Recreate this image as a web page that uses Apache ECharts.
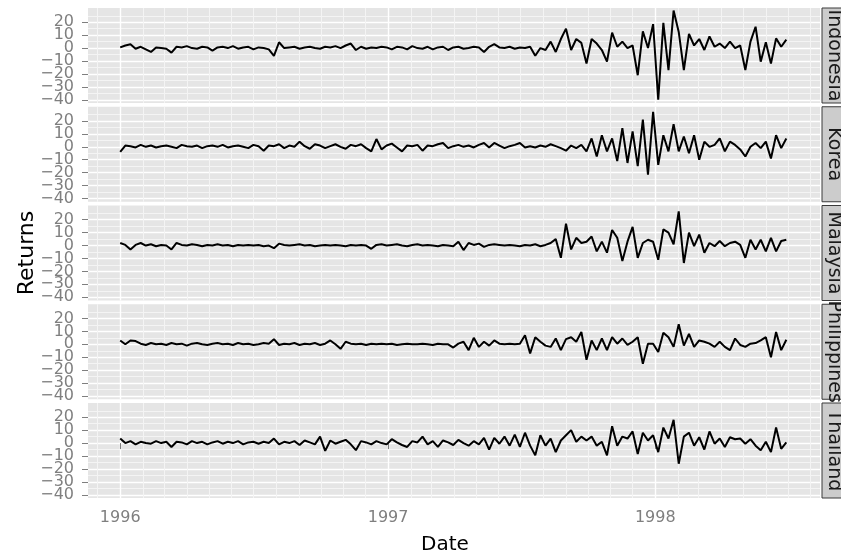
<!DOCTYPE html>
<html>
<head>
<meta charset="utf-8">
<script src="https://cdn.jsdelivr.net/npm/echarts@6/dist/echarts.min.js"></script>
<style>
	html, body { margin: 0; padding: 0; background: #ffffff; }
	#returnsChart { width: 841px; height: 557px; }
</style>
</head>
<body>
<div id="returnsChart"></div>
<script>
// weekly returns (%), one value per week starting at startDate
var countries = ['Indonesia', 'Korea', 'Malaysia', 'Philippines', 'Thailand']
var startDate = '1996-01-01'
var yearLabels = [1996, 1997, 1998]
var returnTicks = [-40, -30, -20, -10, 0, 10, 20]
var returnMinorTicks = [-35, -25, -15, -5, 5, 15, 25]

var indonesia = [
	0.5, 2, 3, -0.5, 1, -1, -3, 0.5, 0, -0.5,
	-3.5, 1, 0.5, 1.5, 0, -0.5, 1, 0.5, -2, 0.5,
	1, 0, 1.5, -0.5, 0.5, 1, -1, 0.5, 0, -1,
	-6, 4.5, 0, 0.5, 1, -0.5, 0.5, 1, 0, -0.5,
	1, 0.5, 1.5, 0, 2, 3.5, -1.5, 1, -0.5, 0.5,
	0, 1, 0.5, -1, 1, 0.5, -1, 1.5, 0, -0.5,
	1, -1, 0.5, 1, -1.5, 0.5, 1, -0.5, 0, 1,
	0.5, -3, 1, 3, 0.5, 0, 1, -0.5, 0.5, 0,
	1, -6, 0, -1.5, 5, -3, 7, 15, -1.5, 7,
	4, -12, 7, 3.5, -1.5, -10.5, 12, 1, 5, 0,
	2, -21, 13, 0, 18.5, -40, 19.5, -17, 29, 12.5,
	-17, 11, 2, 7, -1.5, 9, 1, 3.5, 0, 5,
	0, 2, -17, 5, 16.5, -10.5, 4.5, -12, 7.5, 1,
	6.5,
]
var korea = [
	-4, 1, 0.5, -0.5, 1.5, 0, 1, -0.5, 0.5, 1,
	0, -1, 1.5, 0.5, 0, 1, -1, 0.5, 1, 0,
	1.5, -0.5, 0.5, 1, 0, -1, 1.5, 0.5, -3, 1,
	0.5, 2, -1, 1, 0, 4, 0.5, -1.5, 2, 1,
	-1, 0.5, 2, 0, -1.5, 1.5, 0.5, 2, -1, -3.5,
	6, -2, 1, 2.5, -0.5, -3.5, 1, 0.5, 1.5, -3,
	1, 0.5, 2, 3, -1, 0.5, 1.5, 0, 1, -0.5,
	1.5, 3, -0.5, 3, 1, -1, 0.5, 1.5, 3, -0.5,
	0.5, -0.5, 1, 0, 2, 0.5, -1, -3, 1, -1,
	1.5, -3.5, 6.5, -7.5, 9, -3.5, 6.5, -11, 14.5, -12.5,
	12, -15, 21, -21.5, 27, -14, 9, -3.5, 17.5, -3.5,
	8, -5, 9, -10, 4, 0, 1.5, 6.5, -3.5, 4,
	1.5, -2, -7.5, 0, 3, -1, 4, -9, 9, -1,
	6.5,
]
var malaysia = [
	2, 0.5, -3, 0.5, 2, 0, 1, -0.5, 0.5, 0,
	-3, 2, 0.5, 0, 1, 0.5, -0.5, 0.5, 0, 1,
	0, 0.5, -0.5, 0.5, 0, 0.5, 0, 0.5, -0.5, 0,
	-2, 1.5, 0.5, 0, 0.5, 1, 0, 0.5, -0.5, 0,
	0.5, 0, 0.5, 0, -0.5, 0.5, 0, 0.5, 0, -2.5,
	0.5, 1, 0, 0.5, 1, 0, -0.5, 0.5, 1, 0,
	0.5, 0, -0.5, 0.5, 0, -0.5, 3, -3.5, 2, 0.5,
	1.5, -1, 0.5, 1, 0.5, 0, 0.5, 0, -0.5, 0.5,
	0, 1, -0.5, 0.5, 2, 5, -9.5, 17, -3, 6,
	2, 3, 7, -4.5, 3, -5.5, 12, 6, -12, 3,
	14.5, -9.5, 2, 4.5, 3, -11, 12.5, 10, 1, 26.5,
	-13.5, 10, -0.5, 8.5, -5.5, 2, -0.5, 3.5, -0.5, 2,
	3, 0.5, -9.5, 4.5, -3, 4.5, -4.5, 6, -4.5, 3.5,
	4.5,
]
var philippines = [
	3, 0, 3, 2.5, 0.5, -0.5, 1, 0, 0.5, -0.5,
	1, 0, 0.5, -1, 0.5, 1, 0, -0.5, 0.5, 1,
	0, 0.5, -0.5, 1, 0, 0.5, -0.5, 0, 1, 0.5,
	4, -0.5, 0.5, 0, 1, -0.5, 0.5, 0, 1, -0.5,
	0.5, 3, 0, -3.5, 2, 0.5, 0, 0.5, -0.5, 0.5,
	0, 0.5, 0, 0.5, -0.5, 0, 0.5, 0, 0, 0.5,
	0, -0.5, 0.5, 0, 0, -2.5, 0.5, 2, -4.5, 5,
	-2, 2, -1, 3, 0.5, 0, 0.5, 0, 0.5, 7,
	-7, 5.5, 2, -1, -2, 4.5, -4.5, 4, 5.5, 2,
	9.5, -12, 3, -4.5, 4.5, -4.5, 5.5, 0.5, 4.5, -0.5,
	2, 5.5, -15, 0.5, 0.5, -6, 9, 5.5, -2, 15.5,
	-1, 8, -2, 3, 2, 0.5, -2, 2, -2, -4.5,
	4.5, -0.5, -2, 0.5, 1, 3, 5.5, -10, 9.5, -4.5,
	3.5,
]
var thailand = [
	3.5, 0, 1.5, -1, 1, 0, -0.5, 1.5, 0, 1,
	-3, 1, 0.5, -1, 1.5, 0, 1, -1, 0.5, 1.5,
	-0.5, 1, 0, 1.5, -1, 0.5, 1, -0.5, 1, 0,
	3.5, -1, 1, 0, 1.5, -1.5, 2, 0.5, -1, 5,
	-6, 2, -0.5, 1, 2.5, -1, -5.5, 1.5, 0.5, -1,
	1.5, 0, -1, 3, 0.5, -1.5, -3, 1.5, 0.5, 5,
	-1, 1.5, -3, 2, 0.5, -1.5, 2.5, 0, -2, 1.5,
	-1, 4, -5, 4, -0.5, 5, -2, 6.5, -3, 8,
	-2, -9.5, 6, -2, 3.5, -7, 2, 6, 10, 1,
	5, 2, 5, -2, 1, -9.5, 13, -2, 5, 3.5,
	9, -8.5, 8, 2, 6, -7, 12, 3.5, 18, -16,
	5, 8, -2, 4.5, -5, 9, -0.5, 3.5, -3, 4.5,
	3, 3.5, -0.5, 3, -2, -5.5, 1, -7, 12, -4.5,
	0.5,
]
var returnsByCountry = [indonesia, korea, malaysia, philippines, thailand]

var DAY = 86400000
var xMin = Date.UTC(1995, 10, 18)
var xMax = Date.UTC(1998, 7, 14)
var yMin = -42.5
var yMax = 31

var panelLeft = 88
var panelRight = 21
var panelTop = 8
var panelHeight = 95
var panelStep = 98.75
var textFont = '"DejaVu Sans", "Liberation Sans", sans-serif'

function weekTimes(n) {
	var t0 = Date.parse(startDate + 'T00:00:00Z')
	var out = []
	for (var i = 0; i < n; i++) {
		out.push(t0 + i * 7 * DAY)
	}
	return out
}

function yearTimes() {
	return yearLabels.map(function (y) {
		return Date.UTC(y, 0, 1)
	})
}

// month starts, January left out (it is a major line)
function monthTimes() {
	var out = []
	for (var y = 1995; y <= 1998; y++) {
		for (var m = 1; m < 12; m++) {
			var t = Date.UTC(y, m, 1)
			if (t > xMin && t < xMax) out.push(t)
		}
	}
	return out
}

function minusSign(v) {
	return v < 0 ? '\u2212' + Math.abs(v) : String(v)
}

// tick labels crowd each other, so they are split over two axes
// (every other label) to stop echarts from dropping any
function everyOther(list, start) {
	return list.filter(function (v, k) {
		return k % 2 === start
	})
}

function yLabelStyle(values) {
	return {
		show: true,
		customValues: values,
		showMinLabel: true,
		showMaxLabel: true,
		formatter: minusSign,
		color: '#7F7F7F',
		fontSize: 16,
		fontFamily: textFont,
		margin: 14,
	}
}

function drawReturns() {
	var chartDom = document.getElementById('returnsChart')
	var myChart = echarts.init(chartDom)
	var option

	var times = weekTimes(indonesia.length)
	var years = yearTimes()
	var months = monthTimes()
	var last = countries.length - 1
	var grids = []
	var minorX = [], majorX = [], minorY = [], majorY = []
	var series = []
	var graphics = []

	countries.forEach(function (name, i) {
		var top = panelTop + i * panelStep
		grids.push({
			left: panelLeft,
			right: panelRight,
			top: top,
			height: panelHeight,
			show: true,
			backgroundColor: '#E5E5E5',
			borderWidth: 0,
			containLabel: false,
			outerBoundsMode: 'none',
		})
		minorX.push({
			type: 'value',
			gridIndex: i,
			position: 'bottom',
			min: xMin,
			max: xMax,
			axisLine: { show: false },
			axisTick: { show: false, customValues: months },
			axisLabel: { show: false, customValues: months },
			splitLine: { show: true, lineStyle: { color: '#F4F4F4', width: 1 } },
		})
		majorX.push({
			type: 'value',
			gridIndex: i,
			position: 'bottom',
			min: xMin,
			max: xMax,
			axisLine: { show: false },
			axisTick: {
				show: i === last,
				customValues: years,
				length: 6,
				lineStyle: { color: '#7F7F7F', width: 1 },
			},
			axisLabel: {
				show: i === last,
				customValues: years,
				showMinLabel: true,
				showMaxLabel: true,
				formatter: function (v) {
					return String(new Date(v).getUTCFullYear())
				},
				color: '#7F7F7F',
				fontSize: 16,
				fontFamily: textFont,
				margin: 12,
			},
			splitLine: { show: true, lineStyle: { color: '#FFFFFF', width: 1.4 } },
		})
		minorY.push({
			type: 'value',
			gridIndex: i,
			position: 'left',
			offset: 0,
			min: yMin,
			max: yMax,
			axisLine: { show: false },
			axisTick: { show: false, customValues: returnMinorTicks },
			axisLabel: yLabelStyle(everyOther(returnTicks, 1)),
			splitLine: { show: true, lineStyle: { color: '#F4F4F4', width: 1 } },
		})
		majorY.push({
			type: 'value',
			gridIndex: i,
			position: 'left',
			offset: 0,
			min: yMin,
			max: yMax,
			axisLine: { show: false },
			axisTick: {
				show: true,
				customValues: returnTicks,
				length: 6,
				lineStyle: { color: '#7F7F7F', width: 1 },
			},
			axisLabel: yLabelStyle(everyOther(returnTicks, 0)),
			splitLine: { show: true, lineStyle: { color: '#FFFFFF', width: 1.4 } },
		})
		series.push({
			name: name,
			type: 'line',
			xAxisIndex: countries.length + i,
			yAxisIndex: countries.length + i,
			data: times.map(function (t, k) {
				return [t, returnsByCountry[i][k]]
			}),
			showSymbol: false,
			symbol: 'none',
			clip: true,
			silent: true,
			lineStyle: { color: '#000000', width: 2 },
			z: 3,
		})
		// facet strip on the right
		graphics.push({
			type: 'rect',
			shape: { x: 822, y: top, width: 30, height: panelHeight },
			style: { fill: '#CCCCCC', stroke: '#3A3A3A', lineWidth: 1 },
		})
		graphics.push({
			type: 'text',
			x: 834,
			y: top + panelHeight / 2,
			rotation: -Math.PI / 2,
			style: {
				text: name,
				fontSize: 19,
				fontFamily: textFont,
				fill: '#1A1A1A',
				textAlign: 'center',
				textVerticalAlign: 'middle',
				align: 'center',
				verticalAlign: 'middle',
			},
		})
	})

	graphics.push({
		type: 'text',
		x: 27,
		y: 253,
		rotation: Math.PI / 2,
		style: {
			text: 'Returns',
			fontSize: 22,
			fontFamily: textFont,
			fill: '#000000',
			textAlign: 'center',
			textVerticalAlign: 'middle',
			align: 'center',
			verticalAlign: 'middle',
		},
	})
	graphics.push({
		type: 'text',
		x: 445,
		y: 545,
		style: {
			text: 'Date',
			fontSize: 20,
			fontFamily: textFont,
			fill: '#000000',
			textAlign: 'center',
			textVerticalAlign: 'middle',
			align: 'center',
			verticalAlign: 'middle',
		},
	})

	option = {
		backgroundColor: '#FFFFFF',
		animation: false,
		grid: grids,
		xAxis: minorX.concat(majorX),
		yAxis: minorY.concat(majorY),
		series: series,
		graphic: graphics,
	}

	option && myChart.setOption(option)
}

drawReturns()
</script>
</body>
</html>
